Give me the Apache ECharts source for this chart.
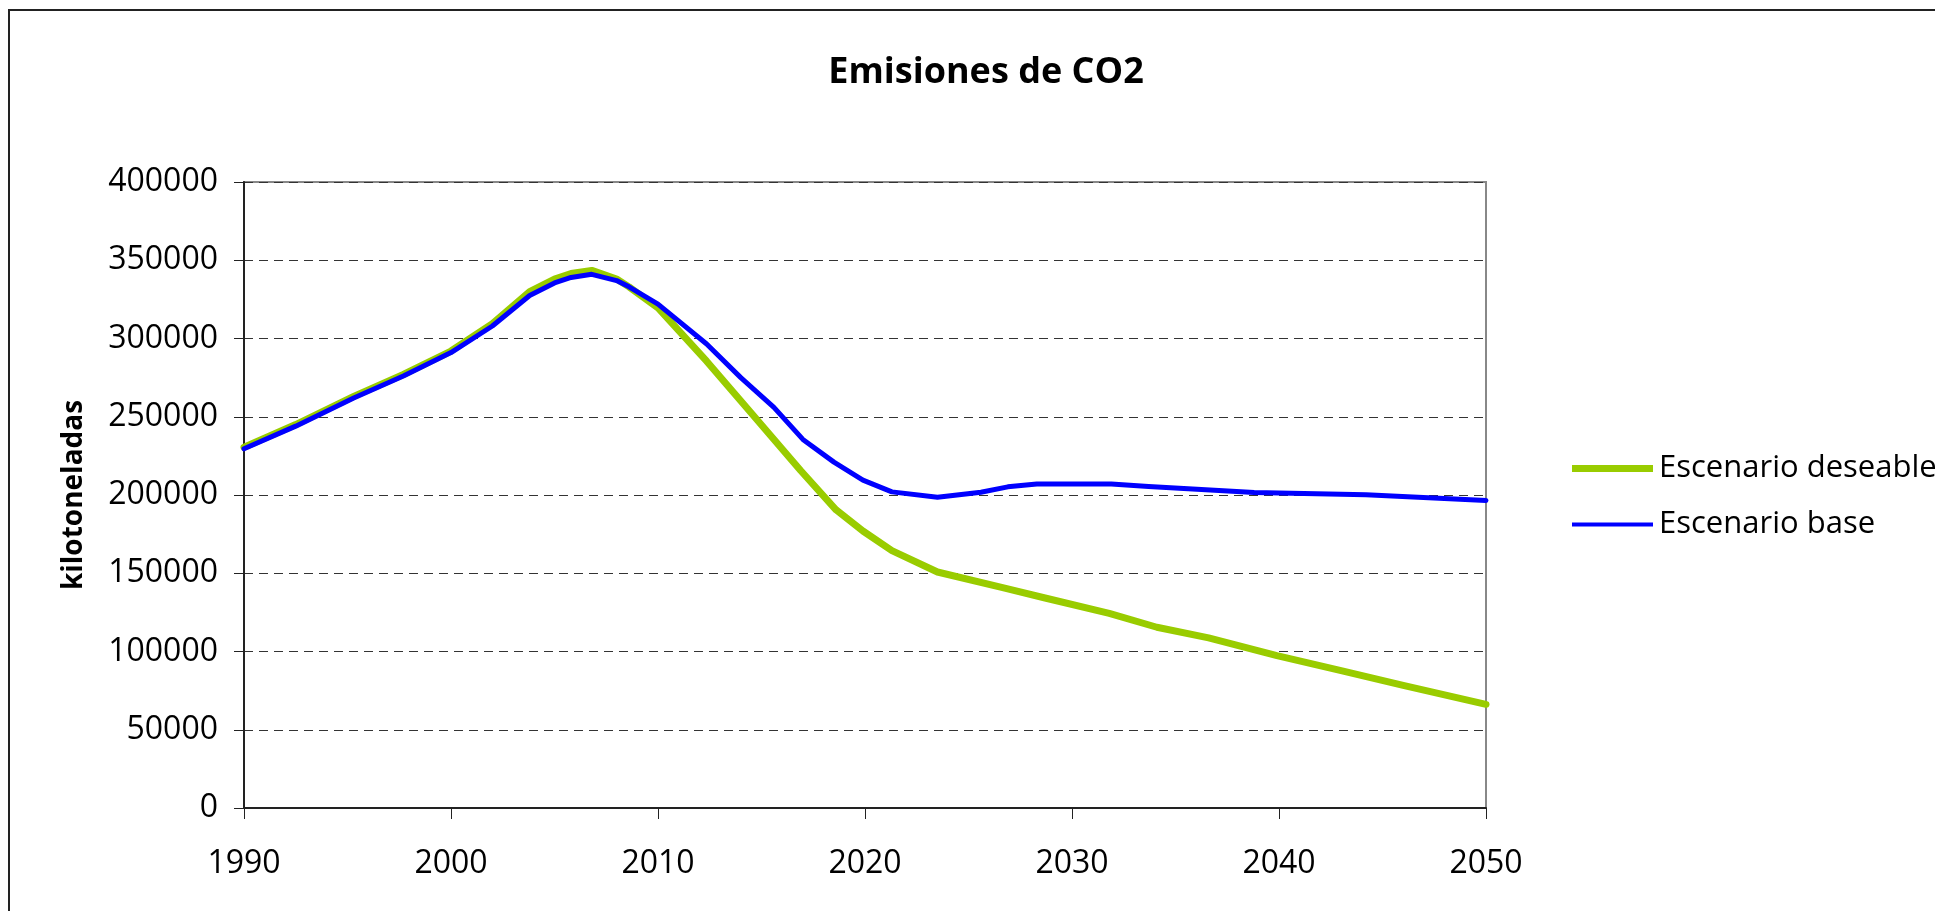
<!DOCTYPE html>
<html>
<head>
<meta charset="utf-8">
<title>Emisiones de CO2</title>
<script src="https://cdn.jsdelivr.net/npm/echarts@6/dist/echarts.min.js"></script>
<style>
  html, body { margin: 0; padding: 0; background: #fff; }
  #chart { width: 1935px; height: 911px; }
</style>
</head>
<body>
<div id="chart"></div>
<script>
// valores (kilotoneladas)
var seriesNames = ['Escenario deseable', 'Escenario base'];

var deseableYears = [1990, 1992.5, 1995.3, 1997.7, 2000, 2002, 2003.8, 2005, 2005.8, 2006.8, 2008, 2008.6, 2010, 2012.35, 2014.4, 2016.9, 2018.6, 2019.9, 2021.3, 2023.5, 2026.7, 2028.7, 2031.8, 2034.1, 2036.6, 2039.9, 2043, 2046, 2050];
var deseableValues = [230500, 245000, 263000, 277000, 292000, 309500, 330000, 338000, 341500, 343500, 338000, 333000, 319500, 285500, 254000, 215500, 190500, 177000, 164500, 150800, 140600, 134200, 124400, 115500, 108700, 97400, 87800, 78300, 66200];

var baseYears = [1990, 1992.5, 1995.3, 1997.7, 2000, 2002, 2003.8, 2005, 2005.8, 2006.8, 2008, 2008.6, 2010, 2012.35, 2014, 2015.6, 2017, 2018.5, 2019.9, 2021.3, 2023.5, 2025.6, 2026.9, 2028.3, 2030, 2031.9, 2033.7, 2038.8, 2044.2, 2050];
var baseValues = [229500, 244000, 262000, 276000, 291000, 308000, 327500, 335500, 339000, 341000, 337000, 333000, 322000, 296500, 275000, 256000, 235500, 221000, 209500, 202000, 198500, 201800, 205200, 207000, 207000, 207000, 205500, 201600, 200100, 196500];

function pairs(xs, ys) {
    var out = [];
    for (var i = 0; i < xs.length; i++) {
        out.push([xs[i], ys[i]]);
    }
    return out;
}

var myChart = echarts.init(document.getElementById('chart'));
var option = {
    animation: false,
    backgroundColor: '#fff',
    textStyle: { fontFamily: 'Open Sans' },
    title: {
        text: 'Emisiones de CO2',
        left: 981,
        textAlign: 'center',
        top: 50,
        textStyle: { fontFamily: 'Open Sans', fontWeight: 'bold', fontSize: 36, color: '#000' }
    },
    graphic: [{
        // marco exterior del grafico
        type: 'rect',
        shape: { x: 9, y: 10, width: 2000, height: 1000 },
        style: { fill: 'none', stroke: '#222', lineWidth: 2 },
        silent: true
    }],
    legend: {
        orient: 'vertical',
        left: 1567,
        top: 448,
        itemWidth: 81,
        itemHeight: 7,
        itemGap: 25,
        symbolKeepAspect: true,
        data: [{
            name: seriesNames[0],
            icon: 'path://M0,0 L81,0 L81,7 L0,7 Z',
            itemStyle: { color: '#99cc00' }
        }, {
            name: seriesNames[1],
            icon: 'path://M0,0 L81,0 L81,4 L0,4 Z',
            itemStyle: { color: '#0000ff' }
        }],
        textStyle: { fontFamily: 'Open Sans', fontSize: 31, color: '#000', padding: [0, 0, 0, 1] }
    },
    grid: {
        left: 244,
        right: 449,
        top: 182,
        bottom: 103,
        show: true,
        borderColor: '#888',
        borderWidth: 2
    },
    xAxis: {
        type: 'value',
        min: 1990,
        max: 2050,
        interval: 10,
        axisLine: { lineStyle: { color: '#222', width: 2 } },
        axisTick: { length: 11, lineStyle: { color: '#222' } },
        axisLabel: { margin: 40, fontSize: 32, color: '#000', formatter: function (v) { return String(v); } },
        splitLine: { show: false }
    },
    yAxis: {
        type: 'value',
        min: 0,
        max: 400000,
        interval: 50000,
        name: 'kilotoneladas',
        nameLocation: 'middle',
        nameGap: 156,
        nameTextStyle: { fontFamily: 'Open Sans', fontWeight: 'bold', fontSize: 28, color: '#000' },
        axisLine: { show: true, lineStyle: { color: '#222', width: 2 } },
        axisTick: { show: true, length: 10, lineStyle: { color: '#222' } },
        axisLabel: { margin: 26, fontSize: 32, color: '#000', formatter: function (v) { return String(v); } },
        splitLine: { lineStyle: { type: [9, 6], color: '#333', width: 1 } }
    },
    series: [{
        name: seriesNames[0],
        type: 'line',
        symbol: 'none',
        data: pairs(deseableYears, deseableValues),
        lineStyle: { color: '#99cc00', width: 7, join: 'round', cap: 'round' },
        itemStyle: { color: '#99cc00' }
    }, {
        name: seriesNames[1],
        type: 'line',
        symbol: 'none',
        data: pairs(baseYears, baseValues),
        lineStyle: { color: '#0000ff', width: 5, join: 'round', cap: 'round' },
        itemStyle: { color: '#0000ff' }
    }]
};
option && myChart.setOption(option);
</script>
</body>
</html>
